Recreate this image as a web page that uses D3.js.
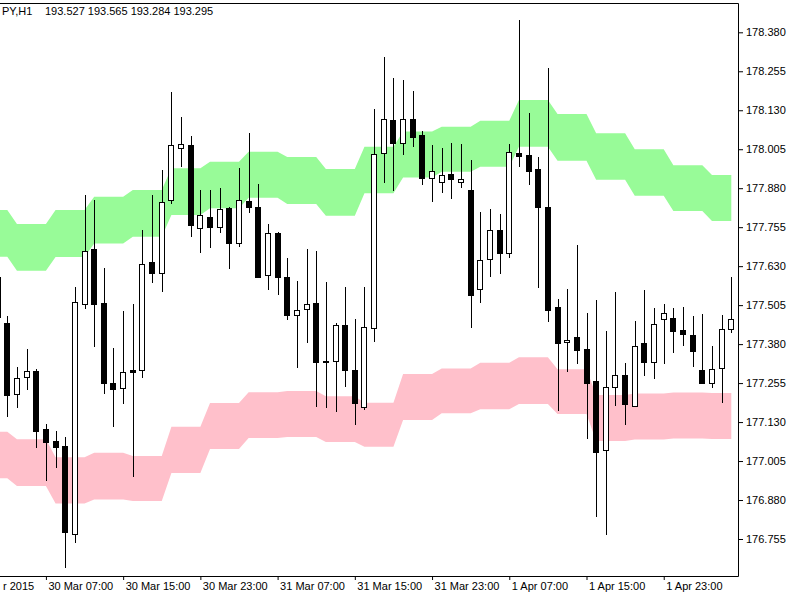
<!DOCTYPE html>
<html>
<head>
<meta charset="utf-8">
<script src="https://cdn.jsdelivr.net/npm/d3@7"></script>
<style>
body { margin: 0; background: #fff; }
svg text { font-family: Tahoma, "Liberation Sans", Arial, sans-serif; font-size: 11px; fill: #000; }
</style>
</head>
<body>
<div id="chart"></div>
<script>
// the screenshot is cropped on the left, only the end of the symbol and of the first date shows
const symbol = "PY,H1";
const quote = [193.527, 193.565, 193.284, 193.295];

// hourly bars, first one (partly off screen) is 30 Mar 2015 02:00
const startTime = new Date(2015, 2, 30, 2);
const opens = [177.467, 177.448, 177.220, 177.275, 177.294, 177.108, 177.069, 177.053, 176.771, 177.509,
  177.685, 177.512, 177.255, 177.239, 177.297, 177.297, 177.643, 177.608, 177.842, 178.009,
  178.019, 177.752, 177.788, 177.756, 177.816, 177.704, 177.839, 177.820, 177.602, 177.736,
  177.595, 177.473, 177.493, 177.512, 177.326, 177.326, 177.441, 177.297, 177.178, 177.432,
  177.993, 178.099, 178.025, 178.102, 178.051, 177.913, 177.900, 177.926, 177.900, 177.874,
  177.557, 177.653, 177.746, 177.672, 177.993, 177.986, 177.942, 177.820, 177.499, 177.387,
  177.403, 177.364, 177.262, 177.040, 177.242, 177.281, 177.182, 177.384, 177.323, 177.460,
  177.464, 177.425, 177.409, 177.297, 177.255, 177.303, 177.428];
const highs = [177.618, 177.470, 177.307, 177.364, 177.300, 177.124, 177.101, 177.082, 177.563, 177.858,
  177.842, 177.624, 177.367, 177.486, 177.509, 177.746, 177.858, 177.938, 178.189, 178.108,
  178.047, 177.874, 177.874, 177.881, 177.820, 177.945, 178.057, 177.893, 177.765, 177.740,
  177.656, 177.582, 177.685, 177.679, 177.579, 177.448, 177.563, 177.460, 177.563, 178.134,
  178.301, 178.233, 178.227, 178.192, 178.063, 178.019, 178.009, 178.025, 178.022, 177.970,
  177.804, 177.813, 177.797, 178.022, 178.419, 178.121, 177.980, 178.265, 177.525, 177.557,
  177.698, 177.480, 177.521, 177.422, 177.547, 177.319, 177.454, 177.553, 177.496, 177.509,
  177.496, 177.499, 177.470, 177.477, 177.374, 177.473, 177.595];
const lows = [177.441, 177.146, 177.175, 177.233, 177.047, 176.941, 176.983, 176.662, 176.742, 177.493,
  177.371, 177.220, 177.114, 177.188, 176.954, 177.271, 177.576, 177.547, 177.829, 177.948,
  177.724, 177.672, 177.688, 177.736, 177.621, 177.691, 177.800, 177.592, 177.553, 177.537,
  177.457, 177.303, 177.384, 177.178, 177.175, 177.162, 177.242, 177.121, 177.169, 177.387,
  177.897, 177.871, 177.986, 178.012, 177.890, 177.836, 177.865, 177.845, 177.881, 177.432,
  177.512, 177.595, 177.605, 177.656, 177.948, 177.890, 177.560, 177.451, 177.165, 177.290,
  177.316, 177.076, 176.826, 176.768, 177.182, 177.121, 177.182, 177.278, 177.268, 177.316,
  177.352, 177.374, 177.307, 177.255, 177.239, 177.191, 177.416];
const closes = [177.595, 177.217, 177.271, 177.294, 177.101, 177.066, 177.050, 176.777, 177.515, 177.679,
  177.509, 177.255, 177.236, 177.290, 177.292, 177.637, 177.608, 177.836, 178.019, 178.022,
  177.762, 177.794, 177.756, 177.813, 177.704, 177.842, 177.820, 177.595, 177.736, 177.595,
  177.473, 177.489, 177.509, 177.323, 177.322, 177.441, 177.297, 177.191, 177.435, 177.990,
  178.102, 178.025, 178.102, 178.044, 177.913, 177.935, 177.922, 177.909, 177.909, 177.537,
  177.650, 177.746, 177.672, 177.996, 177.983, 177.935, 177.820, 177.489, 177.384, 177.393,
  177.361, 177.255, 177.034, 177.242, 177.281, 177.188, 177.374, 177.323, 177.444, 177.480,
  177.422, 177.412, 177.358, 177.255, 177.300, 177.428, 177.460];

// band levels from the H4 timeframe, one value per 4 hours from 30 Mar 00:00
const upperTop = [177.810, 177.765, 177.810, 177.853, 177.874, 177.944, 177.965, 177.997, 177.980, 177.942,
  178.013, 178.062, 178.077, 178.096, 178.163, 178.118, 178.056, 178.005, 177.954, 177.922];
const upperBot = [177.660, 177.615, 177.659, 177.703, 177.724, 177.794, 177.816, 177.849, 177.829, 177.792,
  177.864, 177.914, 177.933, 177.949, 178.013, 177.968, 177.907, 177.856, 177.807, 177.775];
const lowerTop = [177.099, 177.075, 177.017, 177.032, 177.021, 177.115, 177.191, 177.226, 177.230, 177.213,
  177.192, 177.284, 177.302, 177.320, 177.338, 177.299, 177.217, 177.222, 177.225, 177.223];
const lowerBot = [176.950, 176.925, 176.869, 176.882, 176.877, 176.967, 177.044, 177.079, 177.082, 177.066,
  177.051, 177.137, 177.158, 177.171, 177.188, 177.156, 177.069, 177.074, 177.077, 177.076];

const priceTicks = [176.755, 176.880, 177.005, 177.130, 177.255, 177.380, 177.505,
  177.630, 177.755, 177.880, 178.005, 178.130, 178.255, 178.380];
const timeTicks = ["2015-03-30T07:00", "2015-03-30T15:00", "2015-03-30T23:00",
  "2015-03-31T07:00", "2015-03-31T15:00", "2015-03-31T23:00", "2015-04-01T07:00",
  "2015-04-01T15:00", "2015-04-01T23:00"];
const timeLabels = ["30 Mar 07:00", "30 Mar 15:00", "30 Mar 23:00", "31 Mar 07:00",
  "31 Mar 15:00", "31 Mar 23:00", "1 Apr 07:00", "1 Apr 15:00", "1 Apr 23:00"];
const firstDateLabel = "r 2015";

const width = 800, height = 600;
const frameRight = 738.5, frameTop = 3.5, frameBottom = 576.5;

const svg = d3.select("#chart").append("svg")
    .attr("width", width)
    .attr("height", height);

// bar index -> x
const x = d3.scaleLinear().domain([0, 76]).range([-2.35, 731.3]);
const y = d3.scaleLinear().domain([176.755, 178.380]).range([539, 32.3]);

const hourIndex = t => (new Date(t) - startTime) / 3600000;

let bars = opens.map((o, i) => ({
    i: i,
    o: o, h: highs[i], l: lows[i], c: closes[i],
    g: Math.floor((startTime.getHours() + i) / 4)
}));

// bands
let area = d3.area()
    .x(d => x(d.i))
    .y0(d => y(d.lo))
    .y1(d => y(d.hi));

svg.append("path")
    .datum(bars.map(d => ({i: d.i, hi: upperTop[d.g], lo: upperBot[d.g]})))
    .attr("fill", "#98fb98")
    .attr("d", area);

svg.append("path")
    .datum(bars.map(d => ({i: d.i, hi: lowerTop[d.g], lo: lowerBot[d.g]})))
    .attr("fill", "#ffc0cb")
    .attr("d", area);

// candles
let candle = svg.append("g").selectAll("g")
    .data(bars)
    .enter().append("g");

candle.append("line")
    .attr("x1", d => Math.round(x(d.i)) + 0.5)
    .attr("x2", d => Math.round(x(d.i)) + 0.5)
    .attr("y1", d => Math.round(y(d.h)))
    .attr("y2", d => Math.round(y(d.l)))
    .attr("stroke", "#000")
    .attr("stroke-width", 1);

candle.append("rect")
    .attr("x", d => Math.round(x(d.i)) - 2.5)
    .attr("y", d => Math.round(y(Math.max(d.o, d.c))) + 0.5)
    .attr("width", 5)
    .attr("height", d => Math.max(1, Math.round(y(Math.min(d.o, d.c))) - Math.round(y(Math.max(d.o, d.c)))))
    .attr("fill", d => d.c < d.o ? "#000" : "#fff")
    .attr("stroke", "#000")
    .attr("stroke-width", 1);

// frame
svg.append("path")
    .attr("d", `M0,${frameTop}H${frameRight}V${frameBottom}H0`)
    .attr("fill", "none")
    .attr("stroke", "#000")
    .attr("stroke-width", 1);

// price axis
svg.append("g")
    .attr("transform", `translate(${frameRight - 0.5},0)`)
    .call(d3.axisRight(y).tickValues(priceTicks).tickSize(5).tickPadding(3).tickFormat(d3.format(".3f")))
    .call(g => g.select(".domain").remove())
    .call(g => g.selectAll("text").attr("font-family", null).attr("font-size", null));

// time axis
svg.append("g")
    .attr("transform", `translate(0,${frameBottom - 0.5})`)
    .call(d3.axisBottom(x).tickValues(timeTicks.map(hourIndex)).tickSize(4).tickFormat((d, j) => timeLabels[j]))
    .call(g => g.select(".domain").remove())
    .call(g => g.selectAll("text")
        .attr("font-family", null).attr("font-size", null)
        .attr("text-anchor", "start")
        .attr("x", 2).attr("y", 6).attr("dy", "0.71em"));

svg.append("text")
    .attr("x", 3).attr("y", 582)
    .attr("dy", "0.71em")
    .text(firstDateLabel);

// header
svg.append("text")
    .attr("x", 2).attr("y", 15)
    .text(symbol);
svg.append("text")
    .attr("x", 45).attr("y", 15)
    .text(quote.map(d3.format(".3f")).join(" "));
</script>
</body>
</html>
